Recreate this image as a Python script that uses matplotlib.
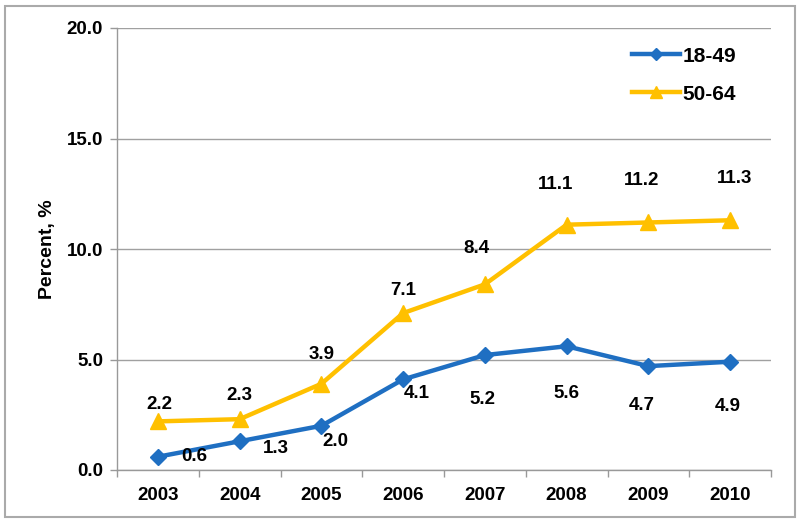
import matplotlib
matplotlib.use("Agg")
import matplotlib.pyplot as plt
from matplotlib.patches import Rectangle

years = ["2003", "2004", "2005", "2006", "2007", "2008", "2009", "2010"]
age_18_49 = [0.6, 1.3, 2.0, 4.1, 5.2, 5.6, 4.7, 4.9]
age_50_64 = [2.2, 2.3, 3.9, 7.1, 8.4, 11.1, 11.2, 11.3]
series_names = ["18-49", "50-64"]
yticks = [0.0, 5.0, 10.0, 15.0, 20.0]

# label offsets in points (style)
off_a = [(26, 0), (26, -5), (10, -11), (10, -10), (-2, -32), (0, -34), (-5, -28), (-2, -32)]
off_b = [(1, 12), (0, 17), (0, 21), (0, 16), (-6, 26), (-8, 29), (-5, 30), (3, 30)]

plt.rcParams['font.family'] = ['Liberation Sans', 'DejaVu Sans']
plt.rcParams['font.weight'] = 'bold'

fig = plt.figure(figsize=(8, 5.23), dpi=100)
ax = fig.add_axes([117/800, 1 - 470/523, (771-117)/800, (470-28)/523])

blue = "#1F6FC2"
gold = "#FFC000"
fs = 13.5
x = list(range(len(years)))
ax.plot(x, age_18_49, color=blue, lw=3.2, marker="D", ms=8, label=series_names[0], zorder=3)
ax.plot(x, age_50_64, color=gold, lw=3.2, marker="^", ms=11, label=series_names[1], zorder=3)

for i, v in enumerate(age_18_49):
    ax.annotate(f"{v:.1f}", (i, v), xytext=off_a[i], textcoords="offset points",
                ha="center", va="center", fontsize=fs, fontweight="bold", color="black")
for i, v in enumerate(age_50_64):
    ax.annotate(f"{v:.1f}", (i, v), xytext=off_b[i], textcoords="offset points",
                ha="center", va="center", fontsize=fs, fontweight="bold", color="black")

ax.set_xlim(-0.5, len(years) - 0.5)
ax.set_ylim(0, 20)
ax.set_yticks(yticks)
ax.set_yticklabels([f"{t:.1f}" for t in yticks], fontsize=fs, fontweight="bold")
ax.set_xticks(x)
ax.set_xticklabels(years, fontsize=fs, fontweight="bold")
ax.set_xticks([i - 0.5 for i in range(len(years) + 1)], minor=True)
ax.tick_params(axis="x", which="major", length=0, pad=12)
ax.tick_params(axis="x", which="minor", length=5, color="#999999", width=1)
ax.tick_params(axis="y", length=5, color="#999999", width=1, pad=5)

ax.grid(axis="y", color="#A0A0A0", lw=1)
ax.set_axisbelow(True)
for s in ["top", "right"]:
    ax.spines[s].set_visible(False)
for s in ["left", "bottom"]:
    ax.spines[s].set_color("#999999")
    ax.spines[s].set_linewidth(1)

ax.set_ylabel("Percent, %", fontsize=14, fontweight="bold", labelpad=8)

leg = ax.legend(loc="upper right", bbox_to_anchor=(0.975, 1.0), frameon=False,
                fontsize=15, handlelength=2.3, handletextpad=0.1, labelspacing=0.9,
                markerscale=0.8)
for t in leg.get_texts():
    t.set_fontweight("bold")

fig.patches.append(Rectangle((5/800, 6/523), 790/800, 511/523, transform=fig.transFigure,
                             fill=False, edgecolor="#AAAAAA", lw=1.5))

fig.savefig("out.png", dpi=100)
